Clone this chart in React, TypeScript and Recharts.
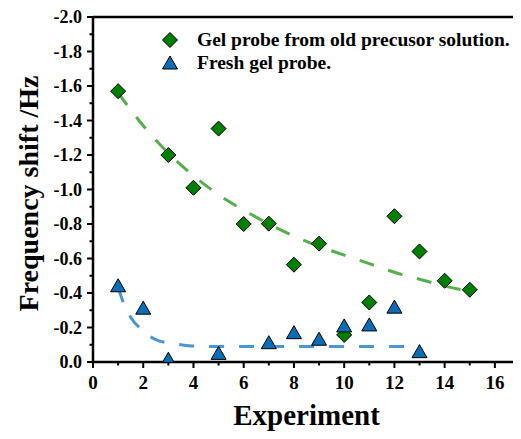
import {
  ComposedChart,
  Scatter,
  Line,
  XAxis,
  YAxis,
  ReferenceLine,
  Legend,
} from "recharts";

// measured points
const experiments = [1, 3, 4, 5, 6, 7, 8, 9, 10, 11, 12, 13, 14, 15];
const oldShift = [-1.57, -1.2, -1.01, -1.353, -0.8, -0.802, -0.564, -0.686, -0.157, -0.345, -0.845, -0.641, -0.471, -0.419];

const freshExperiments = [1, 2, 3, 5, 7, 8, 9, 10, 11, 12, 13];
const freshShift = [-0.442, -0.312, -0.016, -0.05, -0.112, -0.17, -0.132, -0.209, -0.215, -0.318, -0.06];

// fitted curves
const oldFitX = [1, 2, 3, 4, 5, 6, 7, 8, 9, 10, 11, 12, 13, 14, 15];
const oldFitY = [-1.56, -1.37, -1.21, -1.08, -0.97, -0.88, -0.8, -0.73, -0.67, -0.62, -0.57, -0.52, -0.48, -0.44, -0.41];

const freshFitX = [1, 1.25, 1.5, 2, 2.5, 3, 3.5, 4, 5, 6, 8, 10, 12.8];
const freshFitY = [-0.43, -0.33, -0.26, -0.18, -0.13, -0.11, -0.1, -0.093, -0.09, -0.09, -0.09, -0.09, -0.09];

const xTicks = [0, 1, 2, 3, 4, 5, 6, 7, 8, 9, 10, 11, 12, 13, 14, 15, 16];
const yTicks = [-2, -1.9, -1.8, -1.7, -1.6, -1.5, -1.4, -1.3, -1.2, -1.1, -1, -0.9, -0.8, -0.7, -0.6, -0.5, -0.4, -0.3, -0.2, -0.1, 0];

const legendNames = ["Gel probe from old precusor solution.", "Fresh gel probe."];

const oldData = experiments.map((x, i) => ({ x, y: oldShift[i] }));
const freshData = freshExperiments.map((x, i) => ({ x, y: freshShift[i] }));
const oldFit = oldFitX.map((x, i) => ({ x, y: oldFitY[i] }));
const freshFit = freshFitX.map((x, i) => ({ x, y: freshFitY[i] }));

const FONT = "'Liberation Serif', 'DejaVu Serif', serif";
const GREEN = "#008000";
const BLUE = "#0a6db5";

const Diamond = (p: any) => (
  <polygon
    points={`${p.cx},${p.cy - 7.5} ${p.cx + 7.5},${p.cy} ${p.cx},${p.cy + 7.5} ${p.cx - 7.5},${p.cy}`}
    fill={GREEN}
    stroke="#000"
    strokeWidth={1}
  />
);

const Triangle = (p: any) => (
  <polygon
    points={`${p.cx},${p.cy - 7} ${p.cx + 7.5},${p.cy + 6} ${p.cx - 7.5},${p.cy + 6}`}
    fill={BLUE}
    stroke="#000"
    strokeWidth={1}
  />
);

// tickMargin is 11 with tickSize 0, so the axis line sits 11px from x
const YTick = (p: any) => {
  const v = p.payload.value;
  const major = Math.round(v * 10) % 2 === 0;
  const ax = p.x + 11;
  return (
    <g>
      <line x1={ax} x2={ax - (major ? 6 : 3.5)} y1={p.y} y2={p.y} stroke="#000" strokeWidth={2} />
      {major && (
        <text x={p.x} y={p.y} dy="0.36em" textAnchor="end" fontFamily={FONT} fontWeight="bold" fontSize={18} fill="#000">
          {v.toFixed(1)}
        </text>
      )}
    </g>
  );
};

const XTick = (p: any) => {
  const v = p.payload.value;
  const major = v % 2 === 0;
  const ay = p.y - 14;
  return (
    <g>
      <line x1={p.x} x2={p.x} y1={ay} y2={ay + (major ? 6 : 3.5)} stroke="#000" strokeWidth={2} />
      {major && (
        <text x={p.x} y={p.y} dy="0.71em" textAnchor="middle" fontFamily={FONT} fontWeight="bold" fontSize={19} fill="#000">
          {v}
        </text>
      )}
    </g>
  );
};

const LegendBox = () => (
  <div style={{ fontFamily: FONT, fontWeight: "bold", fontSize: 19.5, color: "#000", lineHeight: "22.5px" }}>
    {legendNames.map((name, i) => (
      <div key={name} style={{ display: "flex", alignItems: "center" }}>
        <svg width={20} height={20} style={{ marginRight: 17 }}>
          {i === 0 ? <Diamond cx={10} cy={10} /> : <Triangle cx={10} cy={10} />}
        </svg>
        <span>{name}</span>
      </div>
    ))}
  </div>
);

export default function App() {
  return (
    <div style={{ margin: -8, background: "#fff", width: 521, height: 439 }}>
      <ComposedChart width={521} height={439} margin={{ top: 17, right: 1, bottom: 7, left: 33 }}>
        <XAxis
          dataKey="x"
          type="number"
          domain={[0, 17]}
          ticks={xTicks}
          interval={0}
          tickSize={0}
          tickMargin={14}
          tickLine={false}
          tick={<XTick />}
          height={70}
          axisLine={{ stroke: "#000", strokeWidth: 2.5 }}
          allowDataOverflow
          label={{
            content: (props: any) => {
              const vb = props.viewBox;
              return (
                <text x={vb.x + vb.width / 2} y={vb.y + 63} textAnchor="middle" fontFamily={FONT} fontWeight="bold" fontSize={29} fill="#000">
                  Experiment
                </text>
              );
            },
          }}
        />
        <YAxis
          dataKey="y"
          type="number"
          domain={[-2, 0]}
          reversed
          ticks={yTicks}
          interval={0}
          width={60}
          tickSize={0}
          tickMargin={11}
          tickLine={false}
          tick={<YTick />}
          axisLine={{ stroke: "#000", strokeWidth: 2.5 }}
          allowDataOverflow
          label={{
            content: (props: any) => {
              const vb = props.viewBox;
              const cx = vb.x + 5;
              const cy = vb.y + vb.height / 2 + 4;
              return (
                <text x={cx} y={cy} transform={`rotate(-90 ${cx} ${cy})`} textAnchor="middle" fontFamily={FONT} fontWeight="bold" fontSize={28} fill="#000">
                  Frequency shift /Hz
                </text>
              );
            },
          }}
        />
        <ReferenceLine y={-2} stroke="#000" strokeWidth={2.5} />
        <ReferenceLine x={17} stroke="#cfcfcf" strokeWidth={1.5} />
        <Legend
          layout="vertical"
          verticalAlign="middle"
          align="center"
          wrapperStyle={{ position: "absolute", top: 29, left: 160, width: 360 }}
          content={<LegendBox />}
        />
        <Line
          data={oldFit}
          dataKey="y"
          type="monotone"
          stroke="#54b04a"
          strokeWidth={3}
          strokeDasharray="15 15"
          dot={false}
          legendType="none"
          isAnimationActive={false}
        />
        <Line
          data={freshFit}
          dataKey="y"
          type="monotone"
          stroke="#4896d2"
          strokeWidth={3}
          strokeDasharray="15 15"
          dot={false}
          legendType="none"
          isAnimationActive={false}
        />
        <Scatter name={legendNames[0]} data={oldData} dataKey="y" shape={<Diamond />} isAnimationActive={false} />
        <Scatter name={legendNames[1]} data={freshData} dataKey="y" shape={<Triangle />} isAnimationActive={false} />
      </ComposedChart>
    </div>
  );
}
